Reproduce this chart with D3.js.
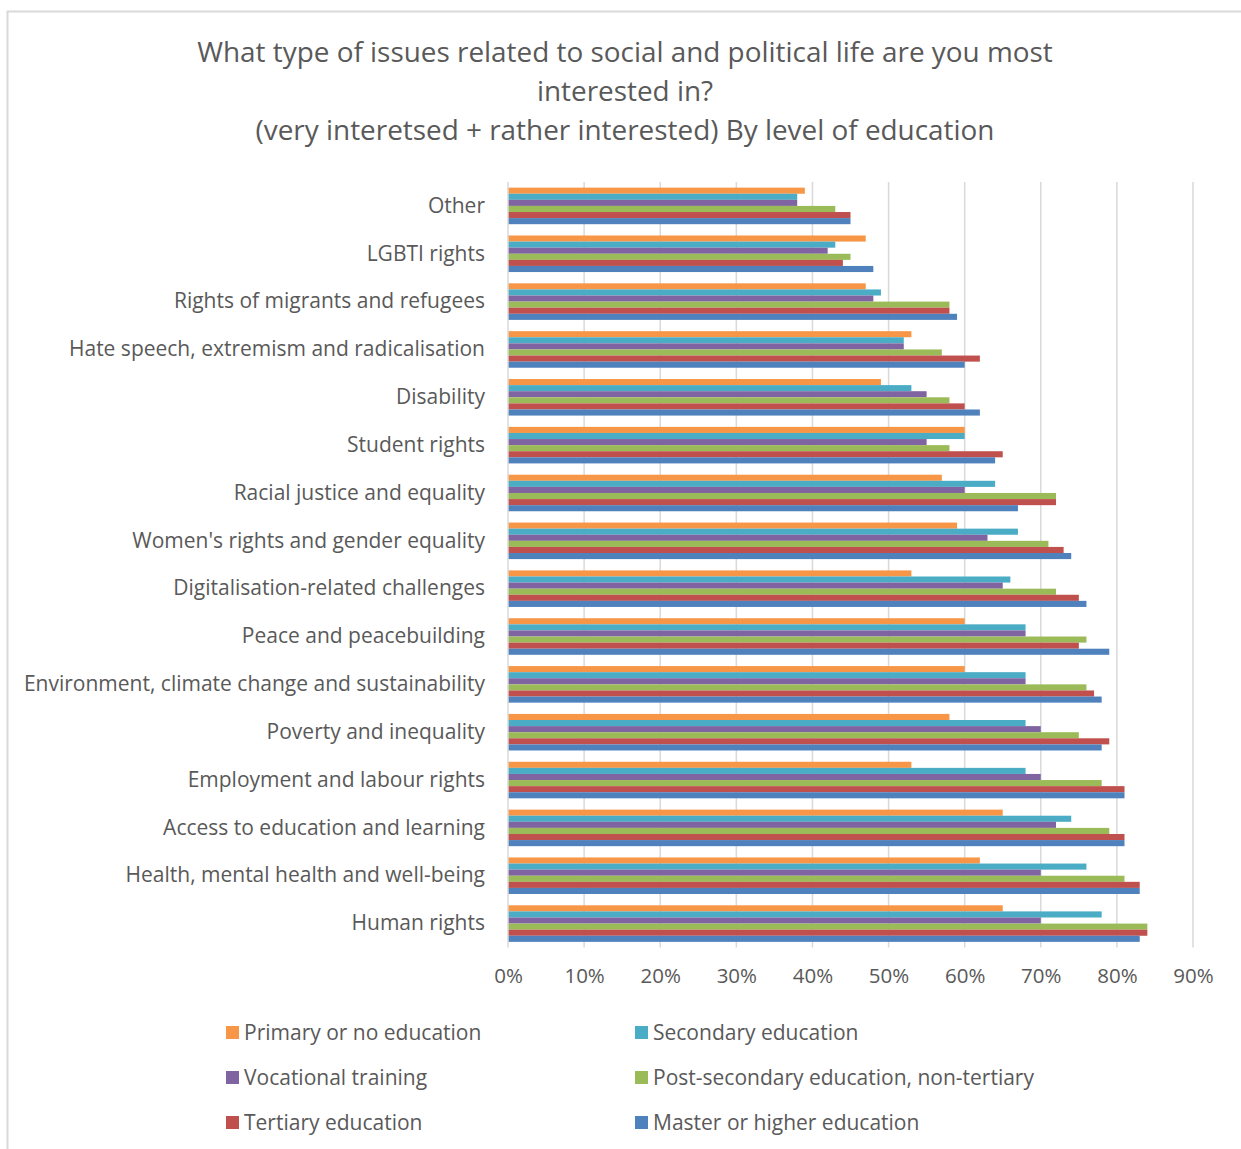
<!DOCTYPE html>
<html>
<head>
<meta charset="utf-8">
<script src="https://cdn.jsdelivr.net/npm/d3@7"></script>
<style>
  html, body { margin: 0; padding: 0; background: #fff; }
  svg { display: block; font-family: "Open Sans", "Noto Sans", sans-serif; }
</style>
</head>
<body>
<svg id="chart" width="1241" height="1149"></svg>
<script>
// Issues, listed top to bottom as drawn
const categories = [
  "Other",
  "LGBTI rights",
  "Rights of migrants and refugees",
  "Hate speech, extremism and radicalisation",
  "Disability",
  "Student rights",
  "Racial justice and equality",
  "Women's rights and gender equality",
  "Digitalisation-related challenges",
  "Peace and peacebuilding",
  "Environment, climate change and sustainability",
  "Poverty and inequality",
  "Employment and labour rights",
  "Access to education and learning",
  "Health, mental health and well-being",
  "Human rights"
];

// Education levels (series), in drawing order inside each group
const seriesNames = [
  "Primary or no education",
  "Secondary education",
  "Vocational training",
  "Post-secondary education, non-tertiary",
  "Tertiary education",
  "Master or higher education"
];

const seriesColors = ["#F79646", "#4BACC6", "#8064A2", "#9BBB59", "#C0504D", "#4F81BD"];

// Share interested (%), one array per education level, same order as categories
const primary      = [39, 47, 47, 53, 49, 60, 57, 59, 53, 60, 60, 58, 53, 65, 62, 65];
const secondary    = [38, 43, 49, 52, 53, 60, 64, 67, 66, 68, 68, 68, 68, 74, 76, 78];
const vocational   = [38, 42, 48, 52, 55, 55, 60, 63, 65, 68, 68, 70, 70, 72, 70, 70];
const postSecond   = [43, 45, 58, 57, 58, 58, 72, 71, 72, 76, 76, 75, 78, 79, 81, 84];
const tertiary     = [45, 44, 58, 62, 60, 65, 72, 73, 75, 75, 77, 79, 81, 81, 83, 84];
const master       = [45, 48, 59, 60, 62, 64, 67, 74, 76, 79, 78, 78, 81, 81, 83, 83];

const seriesValues = [primary, secondary, vocational, postSecond, tertiary, master];

const xTickValues = [0, 10, 20, 30, 40, 50, 60, 70, 80, 90];

const titleLines = [
  "What type of issues related to social and political life are you most",
  "interested in?",
  "(very interetsed + rather interested) By level of education"
];

const textColor = "#595959";
const gridColor = "#D9D9D9";

const svg = d3.select("#chart");

// chart frame
svg.append("rect")
  .attr("x", 7.5).attr("y", 11.5)
  .attr("width", 1260).attr("height", 1160)
  .attr("fill", "#fff")
  .attr("stroke", gridColor)
  .attr("stroke-width", 2);

// title
svg.append("g")
  .selectAll("text")
  .data(titleLines)
  .join("text")
  .attr("x", 625)
  .attr("y", (d, i) => 62 + i * 39)
  .attr("text-anchor", "middle")
  .attr("fill", textColor)
  .attr("font-size", 27.9)
  .text(d => d);

const x = d3.scaleLinear().domain([0, 90]).range([508, 1193]);
const y = d3.scaleBand().domain(categories).range([182, 947.5])
  .paddingInner(0.236).paddingOuter(0.118);
const ySub = d3.scaleBand().domain(d3.range(seriesNames.length)).range([0, y.bandwidth()]);

// vertical gridlines
svg.append("g")
  .selectAll("line")
  .data(xTickValues.slice(1))
  .join("line")
  .attr("x1", d => x(d)).attr("x2", d => x(d))
  .attr("y1", 182).attr("y2", 947.5)
  .attr("stroke", gridColor)
  .attr("stroke-width", 1.5);

// bars
const rows = [];
categories.forEach((c, ci) => {
  seriesValues.forEach((vals, si) => {
    rows.push({ cat: c, s: si, v: vals[ci] });
  });
});

svg.append("g")
  .selectAll("rect")
  .data(rows)
  .join("rect")
  .attr("x", x(0))
  .attr("y", d => y(d.cat) + ySub(d.s))
  .attr("width", d => x(d.v) - x(0))
  .attr("height", ySub.bandwidth())
  .attr("fill", d => seriesColors[d.s]);

// category axis line
svg.append("line")
  .attr("x1", x(0)).attr("x2", x(0))
  .attr("y1", 182).attr("y2", 947.5)
  .attr("stroke", gridColor)
  .attr("stroke-width", 1.5);

// category labels
const yAxis = d3.axisLeft(y).tickSize(0).tickPadding(23);
const gy = svg.append("g").attr("transform", `translate(${x(0)},0)`).call(yAxis);
gy.select(".domain").remove();
gy.selectAll("text")
  .attr("fill", textColor)
  .attr("font-size", 21)
  .attr("font-family", "\"Open Sans\", sans-serif");

// value axis labels
const xAxis = d3.axisBottom(x).tickValues(xTickValues).tickSize(0).tickPadding(21)
  .tickFormat(d => d + "%");
const gx = svg.append("g").attr("transform", "translate(0,947.5)").call(xAxis);
gx.select(".domain").remove();
gx.selectAll("text")
  .attr("fill", textColor)
  .attr("font-size", 20.5)
  .attr("font-family", "\"Open Sans\", sans-serif");

// legend
const legendCols = [226, 635];
const legendRows = [1032.5, 1077.5, 1122.5];
const legend = svg.append("g")
  .selectAll("g")
  .data(seriesNames)
  .join("g")
  .attr("transform", (d, i) => `translate(${legendCols[i % 2]},${legendRows[Math.floor(i / 2)]})`);

legend.append("rect")
  .attr("x", 0).attr("y", -6.5)
  .attr("width", 13).attr("height", 13)
  .attr("fill", (d, i) => seriesColors[i]);

legend.append("text")
  .attr("x", 18)
  .attr("y", 0)
  .attr("dy", "0.35em")
  .attr("fill", textColor)
  .attr("font-size", 21)
  .text(d => d);
</script>
</body>
</html>
